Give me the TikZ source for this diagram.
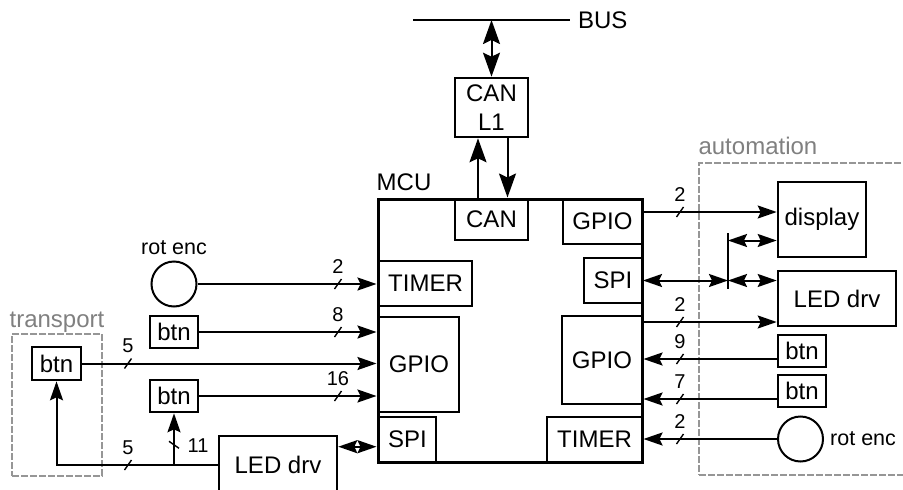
\documentclass[tikz,border=0pt]{standalone}
\usepackage{fontspec}
\setmainfont{Liberation Sans}
\usepackage{tikz}
\usetikzlibrary{arrows.meta,positioning}
\definecolor{grouptxt}{RGB}{128,128,128}
\definecolor{groupline}{RGB}{150,150,150}

% bus width mark: slash on a line with its width above
\newcommand{\buswd}[2]{\draw[slash] (#1) ++(-3.5,5) -- ++(7,-10) ++(-3.5,-6) node[num,anchor=base] {#2};}

\begin{document}
\begin{tikzpicture}[x=1pt, y=-1pt, node distance=6pt,
  font=\fontsize{24}{29}\selectfont,
  >={Stealth[length=19pt,width=13pt,inset=3pt]},
  vtip/.tip={Stealth[length=24pt,width=17pt,inset=4pt]},
  box/.style={draw,line width=2.6pt,inner sep=0pt},
  blk/.style={draw,line width=2pt,inner sep=0pt},
  btn/.style={box,minimum width=48pt,minimum height=32pt},
  enc/.style={circle,draw,line width=2pt,minimum size=45pt,inner sep=0pt},
  enclabel/.style={inner sep=0pt,font=\fontsize{21.5}{25}\selectfont},
  group/.style={draw=groupline,dash pattern=on 7pt off 2pt,line width=1.3pt},
  grouplabel/.style={text=grouptxt,inner sep=0pt},
  num/.style={inner sep=0pt,font=\fontsize{20}{24}\selectfont},
  slash/.style={line width=1.4pt},
  wire/.style={line width=2pt},
  arrow/.style={->,wire},
  biarrow/.style={<->,wire},
  varrow/.style={-vtip,wire},
  vbiarrow/.style={vtip-vtip,wire}]
  \useasboundingbox (0,0) rectangle (903,490);

  % groups
  \node[group,minimum width=90pt,minimum height=142pt] (transport) at (57,405) {};
  \node[grouplabel,anchor=base] at ([yshift=6pt]transport.north) {transport};
  \node[group,minimum width=206pt,minimum height=312pt] (automation) at (802,319) {};
  \node[grouplabel,anchor=base west] at ([yshift=8pt]automation.north west) {automation};

  % mcu and its blocks
  \node[draw,line width=3pt,minimum width=264pt,minimum height=263pt] (mcu) at (510,330.5) {};
  \node[anchor=base west,inner sep=0pt] at ([yshift=7pt]mcu.north west) {MCU};
  \node[blk,minimum width=73pt,minimum height=41pt] (can) at (491.5,219.5) {CAN};
  \node[blk,minimum width=79pt,minimum height=45pt] (gpioT) at (602.5,221.5) {GPIO};
  \node[blk,minimum width=58pt,minimum height=45pt] (spiR) at (613,280.5) {SPI};
  \node[blk,minimum width=80pt,minimum height=88pt] (gpioR) at (602,360) {GPIO};
  \node[blk,minimum width=95pt,minimum height=45pt] (timerR) at (594.5,439.5) {TIMER};
  \node[blk,minimum width=93pt,minimum height=45pt] (timerL) at (425.5,283.5) {TIMER};
  \node[blk,minimum width=80pt,minimum height=95pt] (gpioL) at (419,364.5) {GPIO};
  \node[blk,minimum width=57pt,minimum height=45pt] (spiL) at (407.5,439.5) {SPI};

  % can transceiver and bus
  \node[box,align=center,minimum width=73pt,minimum height=59pt] (canL1) at (491.5,107.5) {CAN\\L1};
  \coordinate (busL) at (413,20);
  \coordinate (busR) at (570,20);
  \draw[wire] (busL) -- (busR) node[inner sep=0pt,right=7pt] {BUS};
  \draw[vbiarrow] (busL -| canL1.north) -- (canL1.north);
  \coordinate (cu) at ([xshift=-13.5pt]canL1.south);
  \coordinate (cd) at ([xshift=16pt]canL1.south);
  \draw[varrow] (cu |- mcu.north) -- (cu);
  \draw[varrow] (cd) -- (cd |- mcu.north);

  % left side
  \node[enc] (enc1) at (174,284) {};
  \node[enclabel,above=6pt of enc1] {rot enc};
  \node[btn] (btn1) at (174,332) {btn};
  \node[btn] (btn2) at (174,396) {btn};
  \node[btn,minimum width=49pt,minimum height=33pt] (btn0) at (56.5,363.5) {btn};
  \node[box,minimum width=118pt,minimum height=58pt] (ledL) at (278,465) {LED drv};

  \coordinate (wl) at (338,0);
  \coordinate (wt) at (128,0);
  \draw[arrow] (enc1) -- (enc1 -| mcu.west);
  \draw[arrow] (btn1) -- (btn1 -| mcu.west);
  \draw[arrow] (btn0) -- (btn0 -| mcu.west);
  \draw[arrow] (btn2) -- (btn2 -| mcu.west);
  \draw[arrow] (ledL.west) -| (btn0.south);
  \draw[arrow] (btn2.south |- ledL.west) -- (btn2.south);
  \coordinate (sl) at ([yshift=-12pt]ledL.north east);
  \draw[biarrow] (sl) -- (sl -| mcu.west);
  \buswd{enc1 -| wl}{2}
  \buswd{btn1 -| wl}{8}
  \buswd{btn2 -| wl}{16}
  \buswd{btn0 -| wt}{5}
  \buswd{ledL.west -| wt}{5}
  \draw[slash] (btn2.south) ++(-5,28) -- ++(10,7) ++(0,-3) node[num,anchor=west,xshift=8pt] {11};

  % right side
  \node[box,minimum width=88pt,minimum height=75pt] (display) at (822,219.5) {display};
  \node[box,minimum width=118pt,minimum height=55pt] (ledR) at (837,298.5) {LED drv};
  \node[btn] (btnR1) at (802,351) {btn};
  \node[btn] (btnR2) at (802,391) {btn};
  \node[enc] (enc2) at (800.5,439) {};
  \node[enclabel,anchor=west,right=6pt of enc2] {rot enc};

  \coordinate (wr) at (680,0);
  \coordinate (g1) at (642,212);
  \coordinate (g2) at (642,322);
  \coordinate (b1) at ([yshift=-8pt]btnR1.west);
  \coordinate (b2) at ([yshift=-8pt]btnR2.west);
  \coordinate (jt) at (728,233);
  \coordinate (jb) at (728,289);
  \coordinate (dsp) at ([yshift=-21pt]display.west);
  \draw[arrow] (g1) -- (g1 -| display.west);
  \draw[wire] (jt) -- (jb);
  \draw[biarrow] (spiR) -- (spiR -| jt);
  \draw[biarrow] (spiR -| jt) -- (spiR -| ledR.west);
  \draw[biarrow] (dsp -| jt) -- (dsp);
  \draw[arrow] (g2) -- (g2 -| ledR.west);
  \draw[arrow] (b1) -- (b1 -| mcu.east);
  \draw[arrow] (b2) -- (b2 -| mcu.east);
  \draw[arrow] (enc2) -- (enc2 -| mcu.east);
  \buswd{g1 -| wr}{2}
  \buswd{g2 -| wr}{2}
  \buswd{b1 -| wr}{9}
  \buswd{b2 -| wr}{7}
  \buswd{enc2 -| wr}{2}
\end{tikzpicture}
\end{document}
